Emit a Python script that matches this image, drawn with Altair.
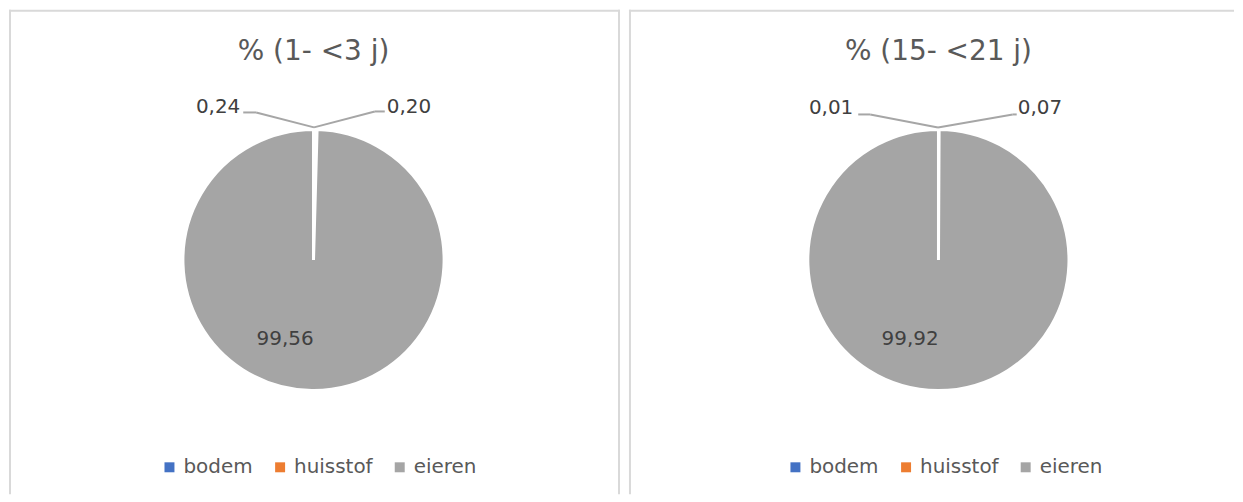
import altair as alt
import pandas as pd

categories = ["bodem", "huisstof", "eieren"]
colors = ["#4472C4", "#ED7D31", "#A5A5A5"]
left_values = [0.24, 0.20, 99.56]
right_values = [0.01, 0.07, 99.92]
titles = ["% (1- <3 j)", "% (15- <21 j)"]

FONT = "DejaVu Sans"
PANEL_H = 486


def make_df(values):
    return pd.DataFrame({
        "cat": categories,
        "order": list(range(len(categories))),
        "value": values,
        "label": [f"{v:.2f}".replace(".", ",") for v in values],
    })


def panel(values, title, W, ox, geo):
    df = make_df(values)
    base = alt.Chart(df)
    cx, cy = geo["center"]
    cx -= ox
    cy -= 8

    pie = base.mark_arc(outerRadius=131, stroke="white", strokeWidth=3).encode(
        theta=alt.Theta("value:Q", stack=True),
        order=alt.Order("order:Q"),
        color=alt.Color(
            "cat:N",
            scale=alt.Scale(domain=categories, range=colors),
            sort=categories,
            legend=alt.Legend(
                title=None,
                orient="none",
                direction="horizontal",
                legendX=geo["legend"][0] - ox,
                legendY=geo["legend"][1] - 8,
                symbolType="square",
                symbolSize=100,
                symbolStrokeWidth=0,
                labelFont=FONT,
                labelFontSize=20,
                labelColor="#595959",
                labelOffset=4,
                columnPadding=17,
                padding=0,
            ),
        ),
        x=alt.value(cx),
        y=alt.value(cy),
    )

    layers = [pie]

    # title
    layers.append(
        alt.Chart(pd.DataFrame({"t": [title]})).mark_text(
            font=FONT, fontSize=28, color="#595959", align="center", baseline="alphabetic"
        ).encode(text="t:N", x=alt.value(cx), y=alt.value(geo["title_y"] - 8))
    )

    # value labels
    for cat, (px, py, al) in geo["labels"].items():
        layers.append(
            base.transform_filter(alt.datum.cat == cat).mark_text(
                font=FONT, fontSize=20, color="#404040", align=al, baseline="alphabetic"
            ).encode(text="label:N", x=alt.value(px - ox), y=alt.value(py - 8))
        )

    # leader lines
    for (x1, y1, x2, y2) in geo["leaders"]:
        layers.append(
            alt.Chart(pd.DataFrame({"k": [0]})).mark_rule(color="#A6A6A6", strokeWidth=2).encode(
                x=alt.value(x1 - ox), y=alt.value(y1 - 8), x2=alt.value(x2 - ox), y2=alt.value(y2 - 8)
            )
        )

    # panel border (left, top, right)
    bc = "#D9D9D9"
    k = pd.DataFrame({"k": [0]})
    layers.append(alt.Chart(k).mark_rule(color=bc, strokeWidth=2).encode(
        x=alt.value(1), x2=alt.value(1), y=alt.value(0), y2=alt.value(PANEL_H)))
    layers.append(alt.Chart(k).mark_rule(color=bc, strokeWidth=2).encode(
        x=alt.value(0), x2=alt.value(W), y=alt.value(1), y2=alt.value(1)))
    if geo.get("right_border", True):
        layers.append(alt.Chart(k).mark_rule(color=bc, strokeWidth=2).encode(
            x=alt.value(W - 1), x2=alt.value(W - 1), y=alt.value(0), y2=alt.value(PANEL_H)))

    return alt.layer(*layers).properties(width=W, height=PANEL_H)


geo_left = {
    "center": (313.5, 259),
    "title_y": 58,
    "legend": (159, 457),
    "labels": {"bodem": (240, 112, "right"), "huisstof": (387, 112, "left"), "eieren": (285, 344, "center")},
    "leaders": [(243, 111, 256, 111), (256, 111, 314, 126), (314, 126, 375, 110), (375, 110, 385, 110)],
}
geo_right = {
    "center": (938.5, 259),
    "title_y": 58,
    "legend": (785, 457),
    "labels": {"bodem": (853, 113, "right"), "huisstof": (1018, 113, "left"), "eieren": (910, 344, "center")},
    "leaders": [(858, 113, 870, 113), (870, 113, 938, 126), (938, 126, 1013, 113), (1013, 113, 1017, 113)],
    "right_border": False,
}

left = panel(left_values, titles[0], 613, 8, geo_left)
right = panel(right_values, titles[1], 607, 628, geo_right)

chart = alt.hconcat(left, right, spacing=7).resolve_legend(color="independent").resolve_scale(
    color="independent"
).properties(padding=0, background="white").configure_view(stroke=None)

chart.save("out.html", embed_options={"renderer": "svg", "actions": False})
